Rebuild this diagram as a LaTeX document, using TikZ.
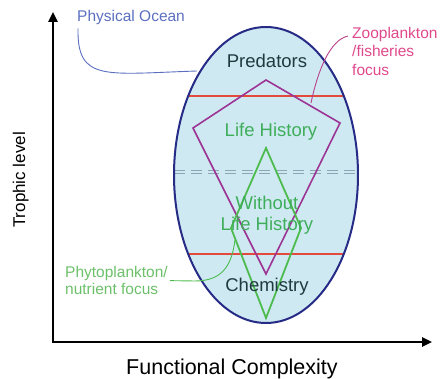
\documentclass[tikz,border=0pt]{standalone}
\usepackage{fontspec}
\setmainfont{Liberation Sans}
\usetikzlibrary{arrows.meta,calc}

\definecolor{oceanfill}{HTML}{CFE9F3}
\definecolor{oceanrim}{HTML}{262B86}
\definecolor{oceantext}{HTML}{5B6FC0}
\definecolor{cutred}{HTML}{E34A3C}
\definecolor{zoopurple}{HTML}{9C3594}
\definecolor{zootext}{HTML}{E0498C}
\definecolor{zoolead}{HTML}{B8408A}
\definecolor{phytogreen}{HTML}{4DBB4D}
\definecolor{phytotext}{HTML}{6CC06A}
\definecolor{lifegreen}{HTML}{3FAE5A}
\definecolor{darktext}{HTML}{1E3B3E}
\definecolor{splitgray}{HTML}{8DA5B5}

\newcommand{\fsz}[1]{\fontsize{#1}{#1}\selectfont}

\begin{document}
\begin{tikzpicture}[x=1pt,y=-1pt,
  axis/.style={line width=2.4pt, line join=miter, {Triangle[length=10pt,width=9pt]}-{Triangle[length=10pt,width=9pt]}},
  cut/.style={draw=cutred, line width=1.6pt},
  kite/.style={draw=zoopurple, line width=1.6pt, line join=miter},
  diamondline/.style={draw=phytogreen, line width=1.8pt, line join=miter},
  split/.style={draw=splitgray, double=oceanfill, double distance=2pt, line width=1.3pt, dash pattern=on 11pt off 6pt},
  note/.style={inner sep=0pt, font=\fsz{15.5}, align=left},
  inside/.style={inner sep=0pt, anchor=base, font=\fsz{18.5}},
  lead/.style={line width=0.9pt}]
  \useasboundingbox (0,0) rectangle (440,379);

  % Physical ocean
  \coordinate (c) at (266,175);
  \fill[oceanfill] (c) ellipse [x radius=92pt, y radius=148pt];

  % Life history split
  \draw[split] (174,172) -- (358,172);

  % Trophic cuts
  \foreach \dy in {-79,79}
    \draw[cut] ($(c)+(-77.8,\dy)$) -- ($(c)+(77.8,\dy)$);

  % Zooplankton / fisheries focus
  \draw[kite] (266,80) -- (340,123) -- (266,274) -- (193,128) -- cycle;

  % Phytoplankton / nutrient focus
  \draw[diamondline] (266,148) -- (301,228) -- (266,318) -- (231,228) -- cycle;

  \draw[oceanrim, line width=2pt] (c) ellipse [x radius=92pt, y radius=148pt];

  % Levels
  \node[inside, text=darktext] (pred) at (267,68) {Predators};
  \node[inside, text=lifegreen] (life) at (271,137) {Life History};
  \node[inside, text=lifegreen] (without) at (267,210) {Without};
  \node[inside, text=lifegreen] (nolife) at (267,231) {Life History};
  \node[inside, text=darktext] (chem) at (267,292) {Chemistry};

  % Notes
  \node[note, anchor=base west, text=oceantext] (ocean) at (77,22) {Physical Ocean};
  \node[note, anchor=north west, text=zootext, font=\fontsize{15.5}{18.5}\selectfont] (zoo) at (352,27)
    {Zooplankton\\/fisheries\\focus};
  \node[note, anchor=north west, text=phytotext, font=\fontsize{15.5}{17.5}\selectfont] (phyto) at (65,266)
    {Phytoplankton/\\nutrient focus};

  \coordinate (oceanend) at (197,71);
  \coordinate (zooend) at (311,103);
  \coordinate (phytoend) at (235,240);
  \draw[lead, oceantext] ([xshift=1pt,yshift=-3pt]ocean.south west)
    .. controls (77,82) and (105,74) .. (oceanend);
  \draw[lead, zoolead] ([xshift=-4pt,yshift=-9pt]zoo.north west)
    .. controls (330,40) and (318,70) .. (zooend);
  \draw[lead, phytogreen] ([xshift=2pt]phyto.east) -- (195,281)
    .. controls (225,281) and (232,262) .. (phytoend);

  % Axes
  \coordinate (o) at (53,342);
  \coordinate (ytip) at (53,12);
  \coordinate (xtip) at (432,342);
  \draw[axis] (ytip) -- (o) -- (xtip);
  \node[inner sep=0pt, anchor=base, rotate=90, font=\fsz{17}] (ylab) at (25,180) {Trophic level};
  \node[inner sep=0pt, anchor=base, font=\fsz{21.5}] (xlab) at (232,375) {Functional Complexity};
\end{tikzpicture}
\end{document}
